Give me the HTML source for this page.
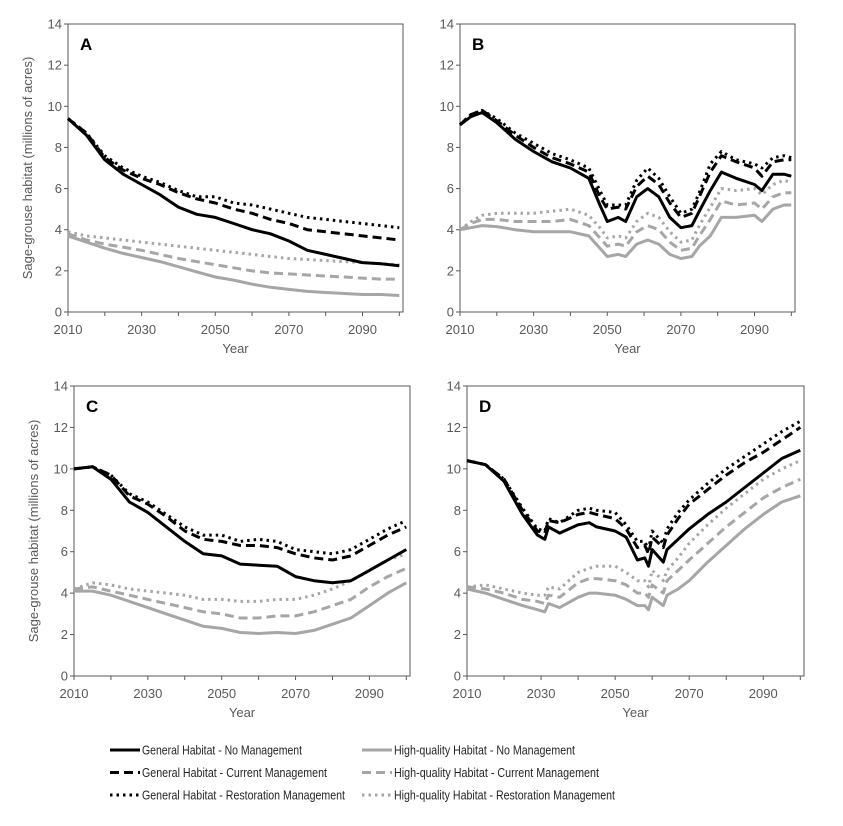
<!DOCTYPE html>
<html><head><meta charset="utf-8"><style>
body{margin:0;background:#fff}
svg{display:block;font-family:"Liberation Sans",sans-serif}
</style></head><body>
<svg id="fig" width="843" height="826" viewBox="0 0 843 826"></svg>
<script>
// ---- data ----
const yearsA=[2010,2015,2020,2025,2030,2035,2040,2045,2050,2055,2060,2065,2070,2075,2080,2085,2090,2095,2100];
const aGenNo=[9.4,8.6,7.4,6.7,6.2,5.7,5.1,4.75,4.6,4.3,4.0,3.8,3.45,3.0,2.8,2.6,2.4,2.35,2.25];
const aGenCur=[9.4,8.7,7.5,6.9,6.5,6.2,5.8,5.5,5.3,5.0,4.8,4.5,4.3,4.0,3.9,3.8,3.7,3.6,3.5];
const aGenRes=[9.4,8.7,7.6,7.0,6.6,6.3,5.9,5.6,5.6,5.3,5.2,5.0,4.8,4.6,4.5,4.4,4.3,4.2,4.1];
const aHqNo=[3.7,3.4,3.1,2.85,2.65,2.45,2.2,1.95,1.7,1.55,1.35,1.2,1.1,1.0,0.95,0.9,0.85,0.85,0.8];
const aHqCur=[3.8,3.5,3.3,3.15,3.0,2.8,2.6,2.45,2.3,2.15,2.0,1.9,1.85,1.8,1.75,1.7,1.65,1.6,1.6];
const aHqRes=[3.9,3.7,3.6,3.5,3.4,3.3,3.2,3.1,3.0,2.9,2.8,2.7,2.6,2.55,2.5,2.45,2.4,2.35,2.3];

const yearsB=[2010,2013,2016,2020,2025,2030,2035,2040,2045,2048,2050,2053,2055,2058,2061,2064,2067,2070,2073,2075,2078,2081,2085,2090,2092,2095,2098,2100];
const bGenNo=[9.1,9.5,9.7,9.2,8.4,7.8,7.3,7.0,6.5,5.2,4.4,4.6,4.4,5.6,6.0,5.6,4.6,4.1,4.2,4.9,5.9,6.8,6.5,6.2,5.9,6.7,6.7,6.6];
const bGenCur=[9.1,9.6,9.8,9.3,8.6,8.0,7.5,7.2,6.8,5.6,5.0,5.1,5.0,6.1,6.6,6.2,5.3,4.6,4.8,5.6,6.8,7.6,7.3,7.0,6.6,7.3,7.4,7.4];
const bGenRes=[9.1,9.6,9.8,9.4,8.7,8.2,7.7,7.4,7.0,5.9,5.2,5.2,5.2,6.4,7.0,6.5,5.6,4.8,5.0,5.8,7.2,7.8,7.4,7.2,7.0,7.5,7.6,7.5];
const bHqNo=[4.0,4.1,4.2,4.15,4.0,3.9,3.9,3.9,3.7,3.1,2.7,2.8,2.7,3.3,3.5,3.3,2.8,2.6,2.7,3.2,3.7,4.6,4.6,4.7,4.4,5.0,5.2,5.2];
const bHqCur=[4.0,4.3,4.5,4.5,4.4,4.4,4.4,4.5,4.2,3.6,3.2,3.3,3.2,3.9,4.2,4.0,3.4,3.0,3.1,3.7,4.5,5.4,5.2,5.3,5.0,5.6,5.8,5.8];
const bHqRes=[4.0,4.4,4.7,4.8,4.8,4.8,4.9,5.0,4.7,4.1,3.6,3.7,3.6,4.4,4.8,4.6,3.9,3.4,3.5,4.2,5.1,6.0,5.9,6.0,5.7,6.2,6.4,6.3];

const yearsC=[2010,2015,2020,2025,2030,2035,2040,2045,2050,2055,2060,2065,2070,2075,2080,2085,2090,2095,2100];
const cGenNo=[10.0,10.1,9.5,8.4,7.9,7.2,6.5,5.9,5.8,5.4,5.35,5.3,4.8,4.6,4.5,4.6,5.1,5.6,6.1];
const cGenCur=[10.0,10.1,9.7,8.7,8.3,7.7,7.0,6.6,6.5,6.3,6.3,6.2,5.9,5.7,5.6,5.8,6.3,6.8,7.2];
const cGenRes=[10.0,10.1,9.7,8.8,8.4,7.8,7.2,6.8,6.8,6.5,6.6,6.5,6.1,6.0,5.9,6.1,6.6,7.1,7.5];
const cHqNo=[4.1,4.1,3.9,3.6,3.3,3.0,2.7,2.4,2.3,2.1,2.05,2.1,2.05,2.2,2.5,2.8,3.4,4.0,4.5];
const cHqCur=[4.2,4.3,4.1,3.9,3.7,3.5,3.3,3.1,3.0,2.8,2.8,2.9,2.9,3.1,3.4,3.7,4.3,4.8,5.2];
const cHqRes=[4.2,4.5,4.4,4.2,4.1,4.0,3.9,3.7,3.7,3.6,3.6,3.7,3.7,3.9,4.2,4.6,5.1,5.6,5.9];

const yearsD=[2010,2015,2020,2025,2029,2031,2032,2035,2040,2043,2045,2050,2053,2056,2058,2059,2060,2063,2064,2067,2070,2075,2080,2085,2090,2095,2100];
const dGenNo=[10.4,10.2,9.4,7.8,6.8,6.6,7.2,6.9,7.3,7.4,7.2,7.0,6.7,5.6,5.7,5.3,6.1,5.5,6.1,6.6,7.1,7.8,8.4,9.1,9.8,10.5,10.9];
const dGenCur=[10.4,10.2,9.5,8.0,7.0,6.9,7.5,7.4,7.8,7.9,7.8,7.6,7.1,6.2,6.3,5.9,6.7,6.2,6.8,7.6,8.3,9.0,9.7,10.3,10.8,11.4,12.0];
const dGenRes=[10.4,10.2,9.5,8.1,7.1,7.0,7.6,7.4,8.0,8.1,8.0,7.9,7.3,6.5,6.5,6.1,7.0,6.4,7.1,7.9,8.5,9.3,10.0,10.6,11.2,11.8,12.3];
const dHqNo=[4.2,4.0,3.7,3.4,3.2,3.1,3.5,3.3,3.8,4.0,4.0,3.9,3.7,3.4,3.4,3.2,3.8,3.4,3.9,4.2,4.6,5.5,6.3,7.1,7.8,8.4,8.7];
const dHqCur=[4.3,4.2,4.0,3.7,3.6,3.5,3.9,3.8,4.5,4.7,4.7,4.6,4.4,4.0,4.0,3.8,4.4,4.0,4.6,5.1,5.6,6.4,7.2,7.9,8.6,9.1,9.5];
const dHqRes=[4.3,4.4,4.2,4.0,3.9,3.9,4.3,4.2,5.0,5.2,5.3,5.3,5.0,4.6,4.6,4.3,5.1,4.6,5.1,5.7,6.4,7.3,8.1,8.8,9.5,10.0,10.4];

const yTicks=[0,2,4,6,8,10,12,14];
const xTickLabels=[2010,2030,2050,2070,2090];
const seriesNames=["General Habitat - No Management","General Habitat - Current Management","General Habitat - Restoration Management","High-quality Habitat - No Management","High-quality Habitat - Current Management","High-quality Habitat - Restoration Management"];

// ---- rendering ----
const NS="http://www.w3.org/2000/svg";
const svg=document.getElementById('fig');
function mk(tag,attrs,parent){const e=document.createElementNS(NS,tag);for(const k in attrs)e.setAttribute(k,attrs[k]);(parent||svg).appendChild(e);return e;}
const styles=[
 {stroke:"#000",dash:""},{stroke:"#000",dash:"9,5"},{stroke:"#000",dash:"2.5,4"},
 {stroke:"#a6a6a6",dash:""},{stroke:"#a6a6a6",dash:"9,5"},{stroke:"#a6a6a6",dash:"2.5,4"}];
const keys=["gen-no","gen-current","gen-restoration","hq-no","hq-current","hq-restoration"];
const legendWidths=[160,185,203,181,205,221];

const panels=[
 {id:"a",letter:"A",L:68,R:403,T:24,B:312,years:yearsA,series:[aGenNo,aGenCur,aGenRes,aHqNo,aHqCur,aHqRes],ylab:true},
 {id:"b",letter:"B",L:460,R:795,T:24,B:312,years:yearsB,series:[bGenNo,bGenCur,bGenRes,bHqNo,bHqCur,bHqRes],ylab:false},
 {id:"c",letter:"C",L:74,R:410,T:386,B:676,years:yearsC,series:[cGenNo,cGenCur,cGenRes,cHqNo,cHqCur,cHqRes],ylab:true},
 {id:"d",letter:"D",L:467,R:804,T:386,B:676,years:yearsD,series:[dGenNo,dGenCur,dGenRes,dHqNo,dHqCur,dHqRes],ylab:false}];

panels.forEach(p=>{
  const g=mk('g',{});
  
  
  const xs=y=>p.L+(y-2010)*(p.R-p.L)/91;
  const ys=v=>p.B-v*(p.B-p.T)/14;
  const frame=mk('rect',{x:p.L,y:p.T,width:p.R-p.L,height:p.B-p.T,fill:"none",stroke:"#595959","stroke-width":1},g);
  
  
  yTicks.forEach(t=>{
    mk('line',{x1:p.L-4,x2:p.L,y1:ys(t),y2:ys(t),stroke:"#595959"},g);
    const tx=mk('text',{x:p.L-6,y:ys(t)+4.5,"text-anchor":"end","font-size":"13",fill:"#595959"},g);
    tx.textContent=t;
    
    
  });
  for(let y=2010;y<=2100;y+=10){mk('line',{x1:xs(y),x2:xs(y),y1:p.B,y2:p.B+4,stroke:"#595959"},g);}
  xTickLabels.forEach(y=>{
    const tx=mk('text',{x:xs(y),y:p.B+22,"text-anchor":"middle","font-size":"13",fill:"#595959"},g);
    tx.textContent=y;
    
    
  });
  const xt=mk('text',{x:(p.L+p.R)/2,y:p.B+41,"text-anchor":"middle","font-size":"13",fill:"#595959"},g);
  xt.textContent="Year";
  
  
  if(p.ylab){
    const cy=(p.T+p.B)/2;
    const yt=mk('text',{x:0,y:0,transform:`translate(${p.L-36},${cy}) rotate(-90)`,"text-anchor":"middle","font-size":"13",fill:"#595959"},g);
    yt.textContent="Sage-grouse habitat (millions of acres)";
    
    
  }
  const lt=mk('text',{x:p.L+12,y:p.T+26,"font-size":"17","font-weight":"bold",fill:"#000"},g);
  lt.textContent=p.letter;
  
  
  [3,4,5,0,1,2].forEach(i=>{
    const d=p.years.map((y,j)=>(j?'L':'M')+xs(y).toFixed(1)+','+ys(p.series[i][j]).toFixed(1)).join(' ');
    const path=mk('path',{d:d,fill:"none",stroke:styles[i].stroke,"stroke-width":3,"stroke-dasharray":styles[i].dash,"stroke-linejoin":"round"},g);
    
    
  });
});

// legend
const lg=mk('g',{});


seriesNames.forEach((n,i)=>{
  const col=i<3?0:1,row=i%3;
  const x0=col?362:110, y0=750+row*22.5;
  const e=mk('g',{},lg);
  
  
  mk('line',{x1:x0,x2:x0+30,y1:y0,y2:y0,stroke:styles[i].stroke,"stroke-width":3,"stroke-dasharray":styles[i].dash},e);
  const t=mk('text',{x:x0+32,y:y0+4.5,"font-size":"13",fill:"#262626",textLength:legendWidths[i],lengthAdjust:"spacingAndGlyphs"},e);
  t.textContent=n;
});
</script>
</body></html>
